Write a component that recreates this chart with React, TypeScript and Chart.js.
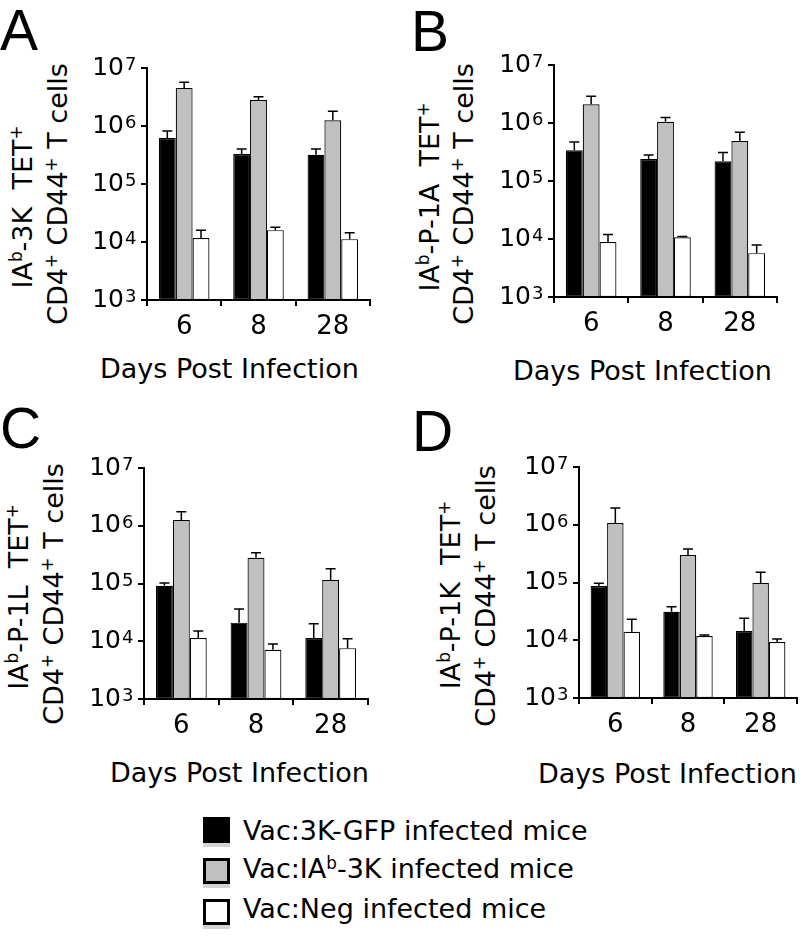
import React, { useEffect, useRef } from 'react';
import { Chart, registerables } from 'chart.js';

Chart.register(...registerables);

// ---------- data ----------
const days = ['6', '8', '28'];
const seriesNames = ['Vac:3K-GFP infected mice', 'Vac:IAb-3K infected mice', 'Vac:Neg infected mice'];
const yExponents = [3, 4, 5, 6, 7];

// Panel A  (IAb-3K)
const aBlack = [6.2e5, 3.3e5, 3.2e5];
const aBlackErr = [8.2e5, 4.0e5, 4.0e5];
const aGray = [4.5e6, 2.8e6, 1.26e6];
const aGrayErr = [5.7e6, 3.2e6, 1.8e6];
const aWhite = [1.17e4, 1.6e4, 1.12e4];
const aWhiteErr = [1.6e4, 1.8e4, 1.44e4];

// Panel B  (IAb-P-1A)
const bBlack = [3.4e5, 2.4e5, 2.2e5];
const bBlackErr = [4.7e5, 2.8e5, 3.1e5];
const bGray = [2.1e6, 1.05e6, 4.9e5];
const bGrayErr = [2.9e6, 1.25e6, 6.9e5];
const bWhite = [8.9e3, 1.07e4, 5.7e3];
const bWhiteErr = [1.2e4, 1.1e4, 7.9e3];

// Panel C  (IAb-P-1L)
const cBlack = [9.1e4, 2.1e4, 1.14e4];
const cBlackErr = [1.02e5, 3.6e4, 2.0e4];
const cGray = [1.26e6, 2.8e5, 1.15e5];
const cGrayErr = [1.74e6, 3.4e5, 1.8e5];
const cWhite = [1.14e4, 7.1e3, 7.6e3];
const cWhiteErr = [1.5e4, 9.0e3, 1.1e4];

// Panel D  (IAb-P-1K)
const dBlack = [8.7e4, 3.1e4, 1.44e4];
const dBlackErr = [9.7e4, 3.8e4, 2.4e4];
const dGray = [1.07e6, 3.0e5, 9.8e4];
const dGrayErr = [1.95e6, 3.8e5, 1.5e5];
const dWhite = [1.4e4, 1.18e4, 9.3e3];
const dWhiteErr = [2.3e4, 1.23e4, 1.05e4];

// ---------- styles ----------
const FONT = '"DejaVu Sans", Verdana, sans-serif';
const COLORS = ['#000000', '#c0c0c0', '#ffffff'];
const Y_TICK_LEN = 6;
const Y_LABEL_PAD = 17;

const errorBarPlugin = {
  id: 'errorBars',
  afterDatasetsDraw(chart: any) {
    const ctx = chart.ctx;
    const yScale = chart.scales.y;
    chart.data.datasets.forEach((ds: any, di: number) => {
      const meta = chart.getDatasetMeta(di);
      meta.data.forEach((bar: any, i: number) => {
        const errVal = ds.errTop[i];
        const yTop = yScale.getPixelForValue(errVal);
        const x = bar.x;
        ctx.save();
        ctx.strokeStyle = '#000';
        ctx.lineWidth = 1.5;
        ctx.beginPath();
        ctx.moveTo(x, bar.y);
        ctx.lineTo(x, yTop);
        ctx.moveTo(x - 5, yTop);
        ctx.lineTo(x + 5, yTop);
        ctx.stroke();
        ctx.restore();
      });
    });
  },
};

// draws the exponent of each "10" tick label (library draws the "10")
const exponentPlugin = {
  id: 'exponents',
  afterDraw(chart: any) {
    const ctx = chart.ctx;
    const yScale = chart.scales.y;
    ctx.save();
    ctx.fillStyle = '#000';
    ctx.font = `18px ${FONT}`;
    ctx.textAlign = 'left';
    ctx.textBaseline = 'alphabetic';
    yScale.ticks.forEach((t: any) => {
      const y = yScale.getPixelForValue(t.value);
      const e = Math.round(Math.log10(t.value));
      ctx.fillText(String(e), yScale.right - Y_TICK_LEN - Y_LABEL_PAD + 1, y + 2);
    });
    ctx.restore();
  },
};

type PanelProps = {
  left: number; right: number; top: number; bottom: number;
  series: number[][]; errs: number[][];
};

function BarPanel({ left, right, top, bottom, series, errs }: PanelProps) {
  const ref = useRef<HTMLCanvasElement>(null);
  const WY = 72, HX = 50, PT = 40, PR = 10;
  const cx = left - WY;
  const cy = top - PT;
  const cw = right + PR - cx;
  const ch = bottom + HX - cy;

  useEffect(() => {
    const chart = new Chart(ref.current as HTMLCanvasElement, {
      type: 'bar',
      data: {
        labels: days,
        datasets: series.map((vals, k) => ({
          label: seriesNames[k],
          data: vals,
          errTop: errs[k],
          backgroundColor: COLORS[k],
          borderColor: '#000',
          borderWidth: 1.2,
          borderSkipped: false,
          categoryPercentage: 0.68,
          barPercentage: 1.0,
        })) as any,
      },
      options: {
        animation: false,
        responsive: false,
        events: [],
        layout: { padding: { top: PT, right: PR, left: 0, bottom: 0 } },
        plugins: { legend: { display: false }, tooltip: { enabled: false } },
        scales: {
          x: {
            type: 'category',
            offset: true,
            grid: {
              display: true, offset: true, drawOnChartArea: false, drawTicks: true,
              tickLength: 6, color: '#000', lineWidth: 2,
            },
            border: { display: true, color: '#000', width: 2 },
            ticks: { color: '#000', font: { family: FONT, size: 26 }, padding: 6, maxRotation: 0 },
            afterFit: (s: any) => { s.height = HX; },
          },
          y: {
            type: 'logarithmic',
            min: 1e3,
            max: 1e7,
            afterBuildTicks: (s: any) => {
              s.ticks = yExponents.map((e) => ({ value: Math.pow(10, e) }));
            },
            ticks: {
              color: '#000',
              font: { family: FONT, size: 25 },
              padding: Y_LABEL_PAD,
              autoSkip: false,
              callback: () => '10',
            },
            grid: {
              display: true, drawOnChartArea: false, drawTicks: true,
              tickLength: Y_TICK_LEN, color: '#000', lineWidth: 2,
            },
            border: { display: true, color: '#000', width: 2 },
            afterFit: (s: any) => { s.width = WY; },
          },
        },
      } as any,
      plugins: [errorBarPlugin, exponentPlugin],
    });
    return () => chart.destroy();
  }, []);

  return (
    <canvas
      ref={ref}
      width={cw}
      height={ch}
      style={{ position: 'absolute', left: cx, top: cy, width: cw, height: ch }}
    />
  );
}

const textBase: React.CSSProperties = {
  position: 'absolute',
  fontFamily: FONT,
  fontSize: 27,
  lineHeight: 1,
  whiteSpace: 'nowrap',
  color: '#000',
};

const supStyle: React.CSSProperties = { fontSize: '0.62em', verticalAlign: '0.55em', lineHeight: 0 };

function Rot({ x, y, children }: { x: number; y: number; children: React.ReactNode }) {
  return (
    <div style={{ ...textBase, left: x, top: y, transform: 'translate(-50%, -50%) rotate(-90deg)' }}>
      {children}
    </div>
  );
}

function Letter({ x, y, ch }: { x: number; y: number; ch: string }) {
  return (
    <div style={{ ...textBase, fontFamily: '"Liberation Sans", Arial, sans-serif', fontSize: 57, left: x, top: y }}>{ch}</div>
  );
}

function XTitle({ x, y }: { x: number; y: number }) {
  return <div style={{ ...textBase, left: x, top: y }}>Days Post Infection</div>;
}

function Line2({ x, y }: { x: number; y: number }) {
  return (
    <Rot x={x} y={y}>
      CD4<sup style={supStyle}>+</sup> CD44<sup style={supStyle}>+</sup> T cells
    </Rot>
  );
}

function Line1({ x, y, name }: { x: number; y: number; name: string }) {
  return (
    <Rot x={x} y={y}>
      IA<sup style={supStyle}>b</sup>-{name}{'\u00a0\u00a0'}TET<sup style={supStyle}>+</sup>
    </Rot>
  );
}

function Swatch({ y, color, border }: { y: number; color: string; border: boolean }) {
  return (
    <div
      style={{
        position: 'absolute', left: 203, top: y, width: 27, height: 26, boxSizing: 'border-box',
        background: color, border: border ? '3px solid #000' : 'none',
        boxShadow: '0 4px 0 #d4d4d4',
      }}
    />
  );
}

export default function App() {
  useEffect(() => {
    document.body.style.margin = '0';
  }, []);
  return (
    <div style={{ position: 'absolute', left: 0, top: 0, width: 810, height: 936, background: '#fff', overflow: 'hidden' }}>
      <BarPanel left={147} right={370} top={68} bottom={300}
        series={[aBlack, aGray, aWhite]} errs={[aBlackErr, aGrayErr, aWhiteErr]} />
      <BarPanel left={554} right={777} top={65} bottom={297}
        series={[bBlack, bGray, bWhite]} errs={[bBlackErr, bGrayErr, bWhiteErr]} />
      <BarPanel left={144} right={368} top={468} bottom={699}
        series={[cBlack, cGray, cWhite]} errs={[cBlackErr, cGrayErr, cWhiteErr]} />
      <BarPanel left={579} right={797} top={467} bottom={698}
        series={[dBlack, dGray, dWhite]} errs={[dBlackErr, dGrayErr, dWhiteErr]} />

      <Letter x={0} y={2} ch="A" />
      <Letter x={411} y={3} ch="B" />
      <Letter x={0} y={400} ch="C" />
      <Letter x={412} y={403} ch="D" />

      <Line1 x={22} y={207} name="3K" />
      <Line2 x={57} y={194} />
      <Line1 x={429} y={197} name="P-1A" />
      <Line2 x={463} y={194} />
      <Line1 x={18} y={597} name="P-1L" />
      <Line2 x={53} y={594} />
      <Line1 x={450} y={595} name="P-1K" />
      <Line2 x={485} y={596} />

      <XTitle x={100} y={355} />
      <XTitle x={513} y={357} />
      <XTitle x={110} y={759} />
      <XTitle x={538} y={760} />

      <Swatch y={817} color="#000" border={false} />
      <Swatch y={858} color="#c0c0c0" border={true} />
      <Swatch y={899} color="#fff" border={true} />
      <div style={{ ...textBase, left: 243, top: 817 }}>Vac:3K-GFP infected mice</div>
      <div style={{ ...textBase, left: 243, top: 855 }}>
        Vac:IA<sup style={supStyle}>b</sup>-3K infected mice
      </div>
      <div style={{ ...textBase, left: 243, top: 895 }}>Vac:Neg infected mice</div>
    </div>
  );
}
